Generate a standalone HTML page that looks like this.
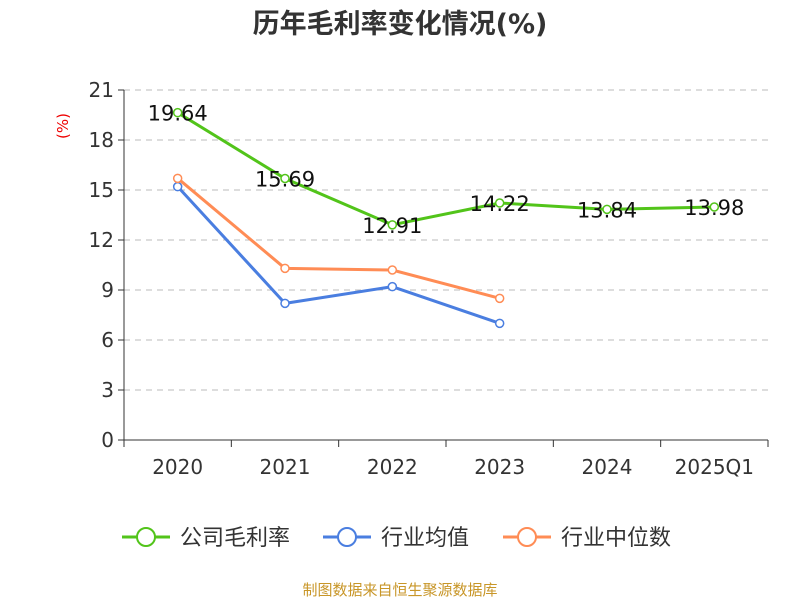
<!DOCTYPE html>
<html><head><meta charset="utf-8"><style>
body{margin:0;background:#fff;}
svg text{font-family:"DejaVu Sans","Noto Sans CJK SC",sans-serif;}
</style></head><body>
<svg id="c" width="800" height="600" xmlns="http://www.w3.org/2000/svg">
<text x="400" y="33" text-anchor="middle" font-size="27" font-weight="bold" fill="#333">历年毛利率变化情况(%)</text>
<text transform="translate(68,126) rotate(-90)" text-anchor="middle" font-size="15" fill="#e00">(%)</text>
<g id="grid"></g><g id="axes"></g><g id="series"></g>
<g>
<g><line x1="122" y1="537" x2="170" y2="537" stroke="#52c41a" stroke-width="3"/><circle cx="146" cy="537" r="9" fill="#fff" stroke="#52c41a" stroke-width="2"/><text x="180" y="545" font-size="22" fill="#333">公司毛利率</text></g>
<g><line x1="323" y1="537" x2="371" y2="537" stroke="#4a7ee0" stroke-width="3"/><circle cx="347" cy="537" r="9" fill="#fff" stroke="#4a7ee0" stroke-width="2"/><text x="381" y="545" font-size="22" fill="#333">行业均值</text></g>
<g><line x1="503" y1="537" x2="551" y2="537" stroke="#ff8c55" stroke-width="3"/><circle cx="527" cy="537" r="9" fill="#fff" stroke="#ff8c55" stroke-width="2"/><text x="561" y="545" font-size="22" fill="#333">行业中位数</text></g>
</g>
<text x="400" y="595" text-anchor="middle" font-size="15" fill="#c89628">制图数据来自恒生聚源数据库</text>
</svg>
<script>
const categories=["2020","2021","2022","2023","2024","2025Q1"];
const yTicks=[0,3,6,9,12,15,18,21];
const grossMargin=[19.64,15.69,12.91,14.22,13.84,13.98];
const industryAvg=[15.2,8.2,9.2,7.0];
const industryMedian=[15.7,10.3,10.2,8.5];
const NS="http://www.w3.org/2000/svg";
const x0=124,x1=768,y0=440,y1=90,yMax=21;
const bw=(x1-x0)/categories.length;
const X=i=>x0+bw*(i+0.5);
const Y=v=>y0-(v/yMax)*(y0-y1);
function mk(tag,attrs,parent,txt){const e=document.createElementNS(NS,tag);for(const k in attrs)e.setAttribute(k,attrs[k]);if(txt!=null)e.textContent=txt;document.getElementById(parent).appendChild(e);return e;}
yTicks.forEach(t=>{
 if(t>0){const g=mk('line',{x1:x0,x2:x1,y1:Y(t),y2:Y(t),stroke:'#bbb','stroke-dasharray':'6,5'},'grid');
 
 }
 const tk=mk('line',{x1:x0-6,x2:x0,y1:Y(t),y2:Y(t),stroke:'#333'},'axes');
 
 
 const l=mk('text',{x:x0-10,y:Y(t)+7,'text-anchor':'end','font-size':20,fill:'#333'},'axes',t);
 
 
});
const ya=mk('line',{x1:x0,x2:x0,y1:y1,y2:y0,stroke:'#333'},'axes');


const xa=mk('line',{x1:x0,x2:x1,y1:y0,y2:y0,stroke:'#333'},'axes');


for(let i=0;i<=categories.length;i++){const t=mk('line',{x1:x0+bw*i,x2:x0+bw*i,y1:y0,y2:y0+7,stroke:'#333'},'axes');
 
 }
categories.forEach((c,i)=>{const l=mk('text',{x:X(i),y:y0+34,'text-anchor':'middle','font-size':20,fill:'#333'},'axes',c);
 
 });
function series(vals,color,name,labels){
 const p=mk('polyline',{points:vals.map((v,i)=>X(i)+','+Y(v)).join(' '),fill:'none',stroke:color,'stroke-width':3},'series');
 
 
 vals.forEach((v,i)=>{const c=mk('circle',{cx:X(i),cy:Y(v),r:4,fill:'#fff',stroke:color,'stroke-width':1.5},'series');
  
  
  if(labels){const t=mk('text',{x:X(i),y:Y(v)+8,'text-anchor':'middle','font-size':21,fill:'#111'},'series',v.toFixed(2));
  
  }});
}
series(industryAvg,'#4a7ee0','industry-avg',false);
series(industryMedian,'#ff8c55','industry-median',false);
series(grossMargin,'#52c41a','gross-margin',true);
</script>
</body></html>
